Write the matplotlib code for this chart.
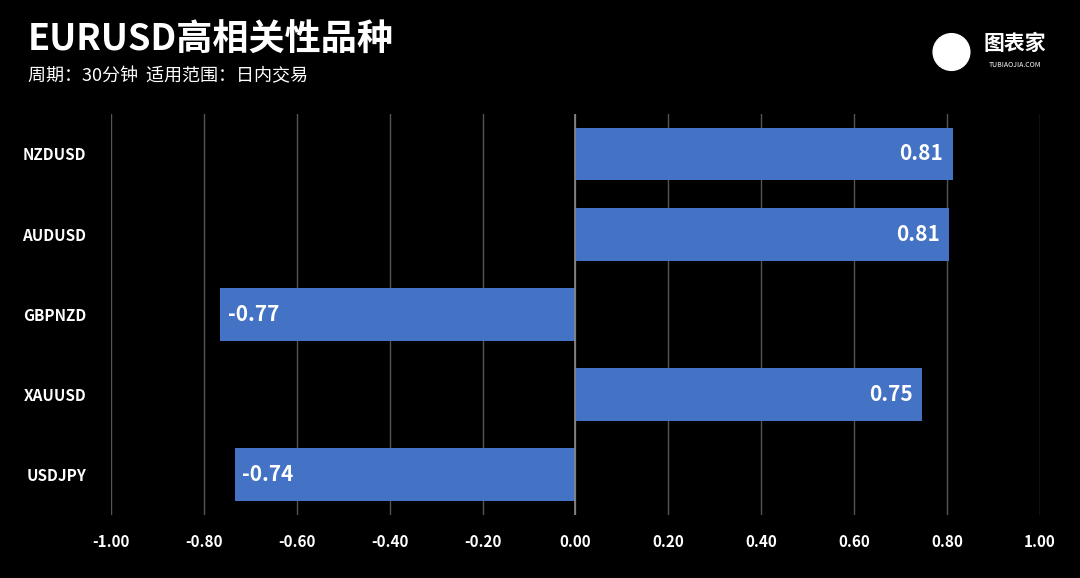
import matplotlib.pyplot as plt
from matplotlib.patches import Ellipse

plt.rcParams['font.family'] = ['Noto Sans CJK SC', 'DejaVu Sans']

pairs = ["NZDUSD", "AUDUSD", "GBPNZD", "XAUUSD", "USDJPY"]
values = [0.812, 0.804, -0.766, 0.747, -0.734]
labels = ["0.81", "0.81", "-0.77", "0.75", "-0.74"]
ticks = [-1.0, -0.8, -0.6, -0.4, -0.2, 0.0, 0.2, 0.4, 0.6, 0.8, 1.0]

fig = plt.figure(figsize=(10.8, 5.78), dpi=100, facecolor="black")
ax = fig.add_axes([0.1028, 0.109, 0.860, 0.694], facecolor="black")

y = list(range(len(pairs)))
ax.barh(y, values, height=0.66, color="#4472C4", zorder=3)
for yi, v, lab in zip(y, values, labels):
    if v >= 0:
        ax.text(v - 0.02, yi, lab, color="white", fontsize=15, fontweight="bold",
                ha="right", va="center", zorder=4)
    else:
        ax.text(v + 0.017, yi, lab, color="white", fontsize=15, fontweight="bold",
                ha="left", va="center", zorder=4)

ax.set_xlim(-1.0, 1.0)
ax.set_ylim(4.5, -0.5)
ax.set_xticks(ticks)
ax.set_xticklabels([f"{t:.2f}" for t in ticks], color="white", fontsize=11, fontweight="bold")
ax.set_yticks(y)
ax.set_yticklabels(pairs, color="white", fontsize=11, fontweight="bold")
ax.tick_params(length=0, pad=14)
ax.tick_params(axis="y", pad=18)
ax.grid(axis="x", color="#555555", linewidth=1, zorder=0)
ax.axvline(0, color="#888888", linewidth=1.2, zorder=5)
for s in ax.spines.values():
    s.set_visible(False)

fig.text(0.026, 0.93, "EURUSD高相关性品种", color="white", fontsize=26, fontweight="bold", va="center")
fig.text(0.026, 0.868, "周期：30分钟  适用范围：日内交易", color="white", fontsize=13, va="center")

# logo (round head in figure fraction, corrected for aspect)
fig.patches.append(Ellipse((0.881, 0.91), 0.034, 0.034 * 1080 / 578,
                           transform=fig.transFigure, color="white"))
fig.text(0.94, 0.925, "图表家", color="white", fontsize=15, fontweight="bold", ha="center", va="center")
fig.text(0.94, 0.888, "TUBIAOJIA.COM", color="white", fontsize=5, ha="center", va="center")

fig.savefig("out.png", dpi=100, facecolor="black")
